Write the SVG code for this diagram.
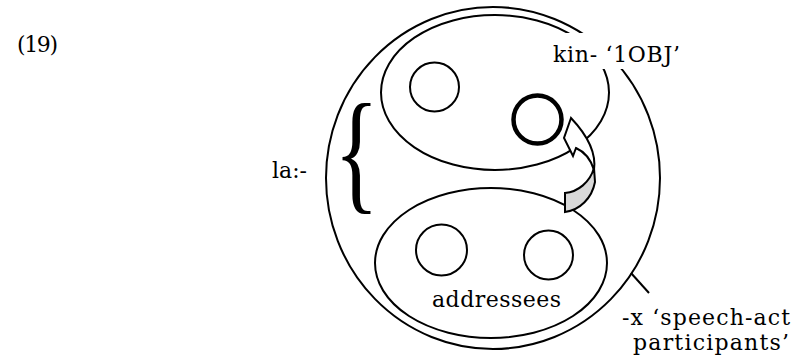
<svg xmlns="http://www.w3.org/2000/svg" width="791" height="362" viewBox="0 0 791 362">
<style>
.ln{fill:none;stroke:#000;stroke-width:2}
.bold{fill:none;stroke:#000;stroke-width:4.5}
.t{font-family:"DejaVu Serif","Liberation Serif",serif;font-size:22px;fill:#000}
.br{font-family:"Liberation Serif",serif;font-size:134px;fill:#000}
</style>
<rect width="791" height="362" fill="#fff"/>
<g id="speech-act-participants"><ellipse class="ln" cx="493" cy="178" rx="167" ry="171"/></g>
<g id="kin-set"><ellipse class="ln" cx="495" cy="92.5" rx="114" ry="77.5"/></g>
<g id="addressees-set"><ellipse class="ln" cx="491" cy="263" rx="116" ry="75"/></g>
<g id="member-1"><circle class="ln" cx="434.5" cy="87" r="24.5"/></g>
<g id="member-obj"><circle class="bold" cx="537.5" cy="119.5" r="24"/></g>
<g id="member-2"><circle class="ln" cx="441.5" cy="250" r="25.5"/></g>
<g id="member-3"><circle class="ln" cx="548.5" cy="255" r="24.5"/></g>
<g id="label-kin">
<rect x="548" y="33" width="142" height="36" fill="#fff"/>
<text class="t" x="553" y="61.5" textLength="127">kin- ‘1OBJ’</text>
</g>
<g id="connectors">
<path d="M571,118 L564,138 L573,156 L576,148 C585,152 591,160 594,170 C596,156 590,138 571,118 Z" fill="#fff" stroke="#000" stroke-width="2" stroke-linejoin="miter"/>
<path d="M594,168 C590,182 578,192 565,193 L565,212 C580,210 592,198 595,182 Z" fill="#d9d9d9" stroke="#000" stroke-width="2"/>
<line class="ln" x1="631" y1="273" x2="649" y2="293"/>
</g>
<g id="label-la">
<text class="t" x="272" y="178">la:-</text>
<text class="br" transform="translate(334,195.6) scale(0.7,1)" x="0" y="0">{</text>
</g>
<g id="label-addressees"><text class="t" x="432" y="306.5" textLength="129">addressees</text></g>
<g id="label-x">
<text class="t" x="622" y="325" textLength="168">-x ‘speech-act</text>
<text class="t" x="633" y="350" textLength="156">participants’</text>
</g>
<g id="label-num"><text class="t" x="17" y="52" textLength="41">(19)</text></g>
</svg>
